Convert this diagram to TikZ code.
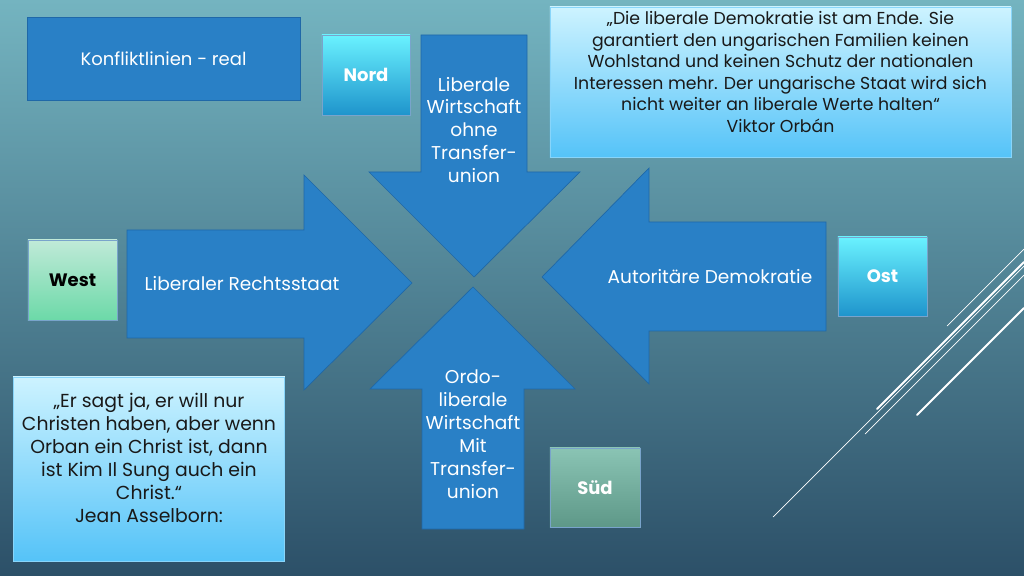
\documentclass[tikz,border=0pt]{standalone}
\usepackage{fontspec}
\setmainfont{Poppins}
\usepackage{tikz}

\definecolor{bgtop}{HTML}{74B4C0}
\definecolor{bgbottom}{HTML}{2C5068}
\definecolor{pfeilblau}{HTML}{2980C6}
\definecolor{pfeilrand}{HTML}{1F68A8}
\definecolor{nordtop}{HTML}{6AF2FF}
\definecolor{nordbottom}{HTML}{1E94CC}
\definecolor{westtop}{HTML}{C0EAD8}
\definecolor{westbottom}{HTML}{6CD9A8}
\definecolor{suedtop}{HTML}{8AC4B4}
\definecolor{suedbottom}{HTML}{5E9888}
\definecolor{zitattop}{HTML}{CDF3FF}
\definecolor{zitatbottom}{HTML}{55C3F8}

\begin{document}
\begin{tikzpicture}[x=0.01in, y=-0.01in,
    pfeil/.style={fill=pfeilblau, draw=pfeilrand, line width=0.5pt},
    pfeiltext/.style={text=white, align=center, font=\fontsize{13.4}{16.6}\selectfont},
    himmelbox/.style={draw=pfeilrand!60, line width=0.5pt, inner sep=0pt},
    richtung/.style={font=\bfseries\fontsize{13}{15}\selectfont, inner sep=0pt},
    zitattext/.style={text=black!90, align=center},
    deko/.style={draw=white, line cap=round}]

      \shade[top color=bgtop, bottom color=bgbottom] (0,0) rectangle (1024,576);
      \useasboundingbox (0,0) rectangle (1024,576);

      \node[fill=pfeilblau, draw=pfeilrand, line width=0.5pt, minimum width=2.73in, minimum height=0.83in, text=white, font=\fontsize{13}{16}\selectfont] (titel) at (163.5,58.5) {Konfliktlinien - real};

      \node[himmelbox, top color=nordtop, bottom color=nordbottom, minimum width=0.88in, minimum height=0.8in] (nord) at (366,75) {};
      \node[richtung, text=white] (nordlabel) at (nord) {Nord};
      \node[himmelbox, top color=westtop, bottom color=westbottom, minimum width=0.89in, minimum height=0.8in] (west) at (72.5,280) {};
      \node[richtung, text=black] (westlabel) at (west) {West};
      \node[himmelbox, top color=nordtop, bottom color=nordbottom, minimum width=0.89in, minimum height=0.79in] (ost) at (882.5,276.5) {};
      \node[richtung, text=white] (ostlabel) at (ost) {Ost};
      \node[himmelbox, top color=suedtop, bottom color=suedbottom, minimum width=0.9in, minimum height=0.79in] (sued) at (595,487.5) {};
      \node[richtung, text=white] (suedlabel) at (sued) {Süd};

      \filldraw[pfeil] (421,35) -- (527,35) -- (527,172) -- (580,172) -- (474,277) -- (369,172) -- (421,172) -- cycle;
      \filldraw[pfeil] (422,529) -- (524,529) -- (524,389) -- (575,389) -- (473,287) -- (370,389) -- (422,389) -- cycle;
      \filldraw[pfeil] (127,230) -- (304,230) -- (304,175) -- (412,283) -- (304,390) -- (304,338) -- (127,338) -- cycle;
      \filldraw[pfeil] (826,222) -- (649,222) -- (649,168) -- (542,277) -- (649,384) -- (649,331) -- (826,331) -- cycle;

      \node[pfeiltext] (nordtext) at (474,130) {Liberale\\Wirtschaft\\ohne\\Transfer-\\union};
      \node[pfeiltext] (suedtext) at (473,434.5) {Ordo-\\liberale\\Wirtschaft\\Mit\\Transfer-\\union};
      \node[pfeiltext] (westtext) at (242,284) {Liberaler Rechtsstaat};
      \node[pfeiltext] (osttext) at (710,277) {Autoritäre Demokratie};

      \node[himmelbox, draw=zitatbottom!70, top color=zitattop, bottom color=zitatbottom, minimum width=4.61in, minimum height=1.5in] (orban) at (780.5,82) {};
      \node[zitattext, font=\fontsize{12.5}{15.5}\selectfont] (orbantext) at (780.5,72) {„Die liberale Demokratie ist am Ende. Sie\\garantiert den ungarischen Familien keinen\\Wohlstand und keinen Schutz der nationalen\\Interessen mehr. Der ungarische Staat wird sich\\nicht weiter an liberale Werte halten“\\Viktor Orbán};

      \node[himmelbox, draw=zitatbottom!70, top color=zitattop, bottom color=zitatbottom, minimum width=2.715in, minimum height=1.84in] (asselborn) at (149,469) {};
      \node[zitattext, font=\fontsize{13.6}{16.6}\selectfont] (asselborntext) at (149,458) {„Er sagt ja, er will nur\\Christen haben, aber wenn\\Orban ein Christ ist, dann\\ist Kim Il Sung auch ein\\Christ.“\\Jean Asselborn:};

      \draw[deko, line width=0.5pt] (947,326) -- (1024,249);
      \draw[deko, line width=1.4pt] (877,409) -- (1024,262);
      \draw[deko, line width=0.5pt] (865,434) -- (1024,275);
      \draw[deko, line width=1.4pt] (917,415) -- (1024,308);
      \draw[deko, line width=0.5pt] (773,517) -- (1024,266);
   \end{tikzpicture}
\end{document}
